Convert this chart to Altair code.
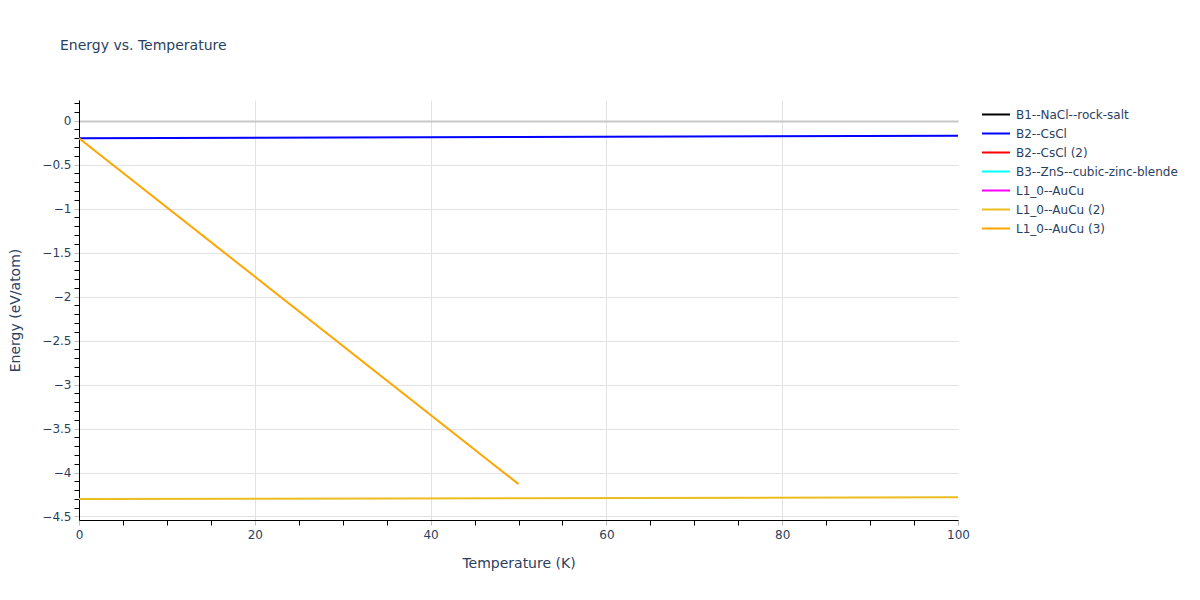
import altair as alt
import pandas as pd

# ---- data ----
series_names = [
    "B1--NaCl--rock-salt",
    "B2--CsCl",
    "B2--CsCl (2)",
    "B3--ZnS--cubic-zinc-blende",
    "L1_0--AuCu",
    "L1_0--AuCu (2)",
    "L1_0--AuCu (3)",
]
series_colors = ["black", "blue", "red", "cyan", "magenta", "#ecbd1e", "orange"]

cscl_T = [0, 50, 100]
cscl_E = [-0.200, -0.186, -0.171]

aucu2_T = [0, 50, 100]
aucu2_E = [-4.302, -4.292, -4.282]

aucu3_T = [0, 50]
aucu3_E = [-0.200, -4.132]

x_tick_values = [0, 5, 10, 15, 20, 25, 30, 35, 40, 45, 50, 55, 60, 65, 70, 75, 80, 85, 90, 95, 100]
y_tick_values = [round(-4.5 + 0.1 * i, 1) for i in range(48)]

rows = []
for name, T, E in [
    ("B2--CsCl", cscl_T, cscl_E),
    ("L1_0--AuCu (2)", aucu2_T, aucu2_E),
    ("L1_0--AuCu (3)", aucu3_T, aucu3_E),
]:
    for t, e in zip(T, E):
        rows.append({"series": name, "T": t, "E": e})
df = pd.DataFrame(rows)

TXT = "#2a3f5f"
FONT = "DejaVu Sans"

y_major = "abs(datum.value*2 - round(datum.value*2)) < 1e-6"
x_major = "datum.value % 20 == 0"

lines = alt.Chart(df).mark_line(strokeWidth=2, clip=True).encode(
    x=alt.X(
        "T:Q",
        scale=alt.Scale(domain=[0, 100], nice=False, zero=False),
        axis=alt.Axis(
            title="Temperature (K)",
            values=x_tick_values,
            labelExpr=f"{x_major} ? format(datum.value, 'd') : ''",
            labelFlush=False,
            grid=True,
            gridColor="#e2e2e2",
            gridOpacity=alt.condition(
                "datum.value % 20 == 0 && datum.value > 0 && datum.value < 100", alt.value(1), alt.value(0)
            ),
            tickColor=alt.condition(x_major, alt.value("#bbbbbb"), alt.value("black")),
            tickSize=5,
            domainColor="black",
            labelPadding=4,
            titlePadding=16,
        ),
    ),
    y=alt.Y(
        "E:Q",
        scale=alt.Scale(domain=[-4.54, 0.235], nice=False, zero=False),
        axis=alt.Axis(
            title="Energy (eV/atom)",
            values=y_tick_values,
            labelExpr=(
                f"{y_major} ? ((datum.value < -1e-9 ? '\u2212' : '') + format(abs(datum.value), '~g')) : ''"
            ),
            labelFlush=False,
            grid=True,
            gridColor=alt.condition("datum.value == 0", alt.value("#c8c8c8"), alt.value("#e2e2e2")),
            gridWidth=alt.condition("datum.value == 0", alt.value(2), alt.value(1)),
            gridOpacity=alt.condition(y_major, alt.value(1), alt.value(0)),
            tickColor=alt.condition(y_major, alt.value("#bbbbbb"), alt.value("black")),
            tickSize=5,
            domainColor="black",
            labelPadding=3,
            titlePadding=19,
        ),
    ),
    color=alt.Color(
        "series:N",
        scale=alt.Scale(domain=series_names, range=series_colors),
        legend=alt.Legend(
            title=None,
            orient="none",
            legendX=902,
            legendY=5,
            symbolType="stroke",
            symbolSize=784,
            symbolStrokeWidth=2,
            labelOffset=5,
            labelLimit=400,
            clipHeight=19,
            rowPadding=0,
            padding=0,
        ),
    ),
)

chart = (
    alt.layer(lines)
    .properties(
        width=879,
        height=420,
        title=alt.TitleParams(
            "Energy vs. Temperature",
            anchor="start",
            frame="group",
            dx=-19,
            offset=47,
            fontSize=14,
            font=FONT,
            color=TXT,
            fontWeight="normal",
        ),
        padding={"left": 71, "top": 92, "right": 234, "bottom": 72},
        autosize=alt.AutoSizeParams(type="none"),
    )
    .configure_axis(
        labelFont=FONT,
        labelFontSize=12,
        labelColor=TXT,
        titleFont=FONT,
        titleFontSize=14,
        titleColor=TXT,
        titleFontWeight="normal",
        domainWidth=1,
    )
    .configure_legend(labelFont=FONT, labelFontSize=12, labelColor=TXT)
    .configure_view(stroke=None)
)

chart.save("out.html", embed_options={"renderer": "svg", "actions": False})
